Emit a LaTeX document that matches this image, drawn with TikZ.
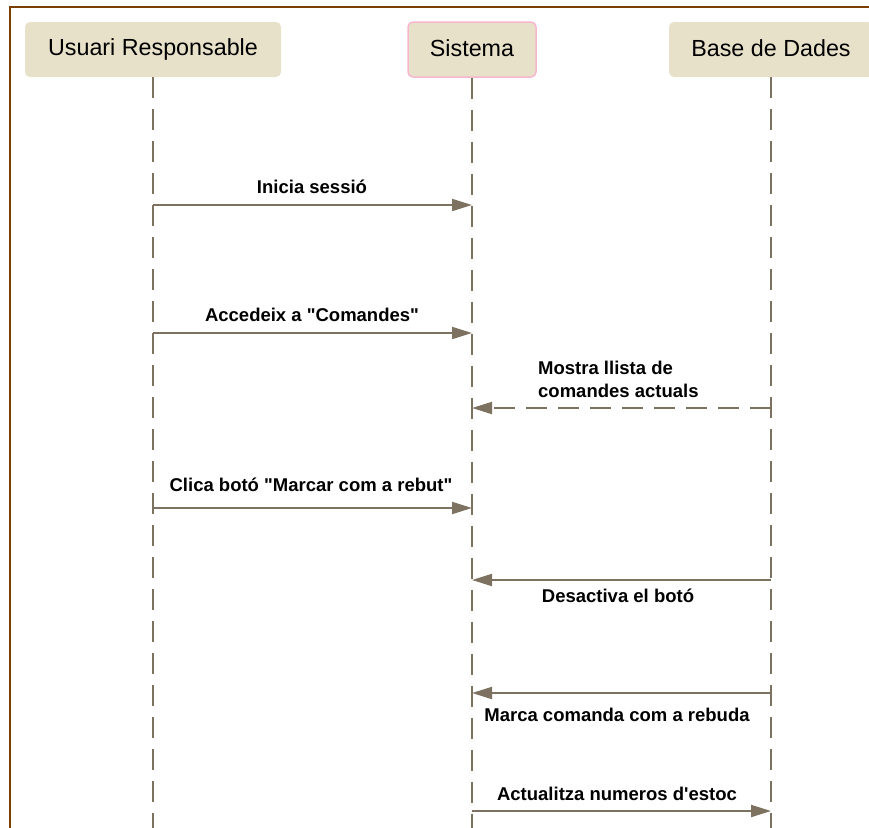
\documentclass[tikz,border=0pt]{standalone}
\usepackage{fontspec}
\setmainfont{Liberation Sans}[Ligatures=TeXOff]
\usetikzlibrary{arrows.meta}
\definecolor{lineclr}{HTML}{7D725F}
\definecolor{boxfill}{HTML}{E8E1C9}
\definecolor{frameclr}{HTML}{7A3E00}
\definecolor{pinkedge}{HTML}{F7B6CE}
\tikzset{
  actor/.style={draw=none, fill=boxfill, rounded corners=5pt, minimum height=55pt, inner sep=0pt, font=\fontsize{23.3}{27}\selectfont, text=black},
  lifeline/.style={draw=lineclr, line width=2pt, dash pattern=on 21pt off 11pt},
  msg/.style={draw=lineclr, line width=2pt, -{Triangle[length=20pt,width=12pt]}},
  reply/.style={msg, dash pattern=on 21pt off 11pt},
  lbl/.style={font=\fontsize{18.5}{23}\selectfont\bfseries, text=black, inner sep=0pt}
}
\newcommand{\actortext}[1]{\raisebox{2.5pt}{#1}}
\begin{document}
\begin{tikzpicture}[x=1pt, y=-1pt]
\useasboundingbox (0,0) rectangle (869,827);
\clip (0,0) rectangle (869,827);
% outer frame
\draw[frameclr, line width=2.5pt] (10,830) -- (10,7) -- (875,7);
% participants
\node[actor, minimum width=256pt] (user) at (153,49.5) {\actortext{Usuari Responsable}};
\node[actor, minimum width=128pt, draw=pinkedge, line width=1.5pt] (sys) at (472,49.5) {\actortext{Sistema}};
\node[actor, minimum width=204pt] (db) at (771,49.5) {\actortext{Base de Dades}};
% lifeline ends
\coordinate (userEnd) at (153,830);
\coordinate (sysEnd) at (472,830);
\coordinate (dbEnd) at (771,830);
\draw[lifeline] (user.south) -- (userEnd);
\draw[lifeline] (sys.south) -- (sysEnd);
\draw[lifeline] (db.south) -- (dbEnd);
% message anchor points on the lifelines
\coordinate (u1) at (153,205); \coordinate (s1) at (472,205);
\coordinate (u2) at (153,333); \coordinate (s2) at (472,333);
\coordinate (d3) at (771,408); \coordinate (s3) at (472,408);
\coordinate (u4) at (153,508); \coordinate (s4) at (472,508);
\coordinate (d5) at (771,580); \coordinate (s5) at (472,580);
\coordinate (d6) at (771,693); \coordinate (s6) at (472,693);
\coordinate (s7) at (472,811); \coordinate (d7) at (771,811);
% messages
\draw[msg] (u1) -- (s1);
\node[lbl] (l1) at (312,187) {Inicia sessió};
\draw[msg] (u2) -- (s2);
\node[lbl] (l2) at (312,315) {Accedeix a "Comandes"};
\draw[reply] (d3) -- (s3);
\node[lbl, anchor=west, align=left] (l3) at (538,379) {Mostra llista de\\comandes actuals};
\draw[msg] (u4) -- (s4);
\node[lbl] (l4) at (311,485) {Clica botó "Marcar com a rebut"};
\draw[msg] (d5) -- (s5);
\node[lbl] (l5) at (618,596) {Desactiva el botó};
\draw[msg] (d6) -- (s6);
\node[lbl] (l6) at (617,715) {Marca comanda com a rebuda};
\draw[msg] (s7) -- (d7);
\node[lbl] (l7) at (617,794) {Actualitza numeros d'estoc};
\end{tikzpicture}
\end{document}
